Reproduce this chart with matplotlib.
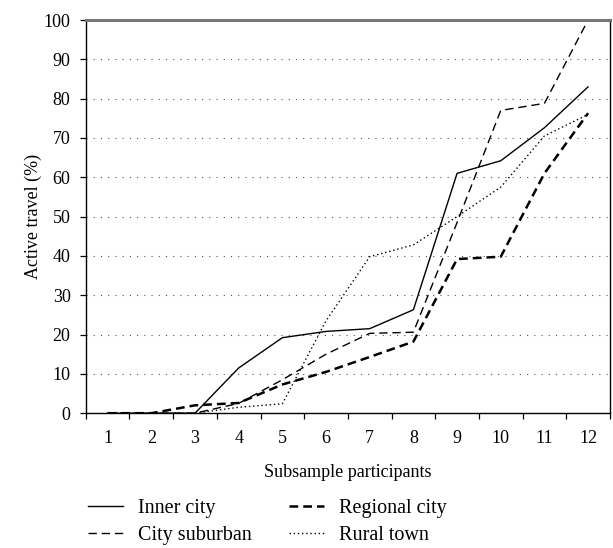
import numpy as np
import matplotlib
matplotlib.use('Agg')
import matplotlib.pyplot as plt

plt.rcParams['font.family'] = ['Liberation Serif', 'DejaVu Serif']

# subsample sizes and active travel share (%) per area type
participants = [1, 2, 3, 4, 5, 6, 7, 8, 9, 10, 11, 12]
inner_city = [0, 0, 0, 11.5, 19.2, 20.8, 21.5, 26.3, 61, 64.2, 72.6, 83]
city_suburban = [0, 0, 0, 2.5, 8.5, 15, 20.3, 20.6, 48.5, 77, 78.8, 100]
regional_city = [0, 0, 2, 2.6, 7.3, 10.5, 14.3, 18.2, 39.2, 39.8, 61, 76.3]
rural_town = [0, 0, 0, 1.5, 2.4, 23.5, 39.8, 42.8, 50, 57.5, 70.5, 76]

fig = plt.figure(figsize=(6.13, 5.48), dpi=100)
ax = fig.add_axes([0.140, 0.246, 0.855, 0.7175])

ax.plot(participants, inner_city, color='black', lw=1.0, ls='-', label='Inner city')
ax.plot(participants, city_suburban, color='black', lw=1.0, ls=(0, (6, 3.5)), label='City suburban')
ax.plot(participants, regional_city, color='black', lw=1.8, ls=(0, (3.5, 2)), label='Regional city')
ax.plot(participants, rural_town, color='black', lw=1.0, ls=(0, (1, 2)), label='Rural town')

# dotted horizontal grid
for yv in range(10, 100, 10):
    ax.axhline(yv, color='#555555', lw=0.8, ls=(0, (1, 5.5)), zorder=0)

ax.set_xlim(0.5, 12.5)
ax.set_ylim(0, 100)
ax.set_yticks(range(0, 101, 10))
ax.set_xticks(participants)
ax.set_xticks(np.arange(0.5, 13, 1), minor=True)
ax.tick_params(axis='x', which='major', length=0, pad=12, labelsize=13)
ax.tick_params(axis='x', which='minor', length=4, direction='out', width=0.9)
ax.tick_params(axis='y', length=4, direction='out', width=0.9, labelsize=13, pad=7)

for s in ['left', 'bottom', 'right']:
    ax.spines[s].set_linewidth(1.0)
ax.spines['top'].set_linewidth(2.2)
ax.spines['top'].set_color('#777777')

ax.set_xlabel('Subsample participants', fontsize=13, labelpad=12)
ax.set_ylabel('Active travel (%)', fontsize=13, labelpad=1)

handles, labels = ax.get_legend_handles_labels()
fig.legend(handles, labels,
           loc='upper left', bbox_to_anchor=(88 / 613, 1 - 499 / 548), ncol=2,
           frameon=False, fontsize=14.5, handlelength=1.74, columnspacing=1.85,
           labelspacing=0.4, handletextpad=0.74, borderaxespad=0, borderpad=0)

fig.savefig('out.png', dpi=100)
